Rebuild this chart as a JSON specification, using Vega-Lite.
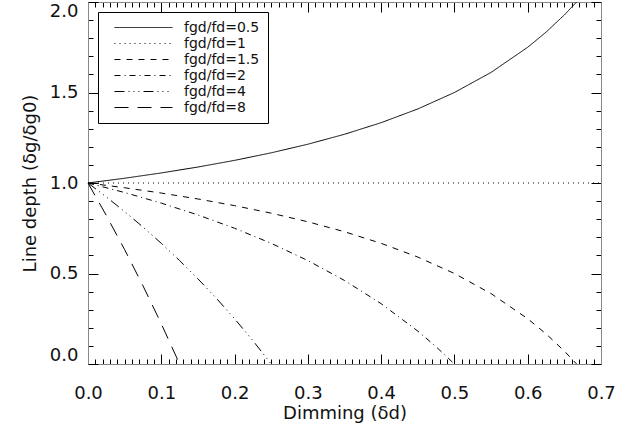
{
  "$schema": "https://vega.github.io/schema/vega-lite/v6.json",
  "autosize": "none",
  "width": 513,
  "height": 362,
  "padding": {"left": 88, "top": 2, "right": 43, "bottom": 70},
  "background": "white",
  "config": {
    "view": {"stroke": "black", "strokeWidth": 1}
  },
  "data": {
    "values": [
      {"r": "0.5", "x": 0, "y": 1},
      {"r": "0.5", "x": 0.05, "y": 1.0263},
      {"r": "0.5", "x": 0.1, "y": 1.0556},
      {"r": "0.5", "x": 0.15, "y": 1.0882},
      {"r": "0.5", "x": 0.2, "y": 1.125},
      {"r": "0.5", "x": 0.25, "y": 1.1667},
      {"r": "0.5", "x": 0.3, "y": 1.2143},
      {"r": "0.5", "x": 0.35, "y": 1.2692},
      {"r": "0.5", "x": 0.4, "y": 1.3333},
      {"r": "0.5", "x": 0.45, "y": 1.4091},
      {"r": "0.5", "x": 0.5, "y": 1.5},
      {"r": "0.5", "x": 0.55, "y": 1.6111},
      {"r": "0.5", "x": 0.6, "y": 1.75},
      {"r": "0.5", "x": 0.625, "y": 1.8333},
      {"r": "0.5", "x": 0.65, "y": 1.9286},
      {"r": "0.5", "x": 0.6667, "y": 2.0},
      {"r": "1", "x": 0, "y": 1},
      {"r": "1", "x": 0.7, "y": 1},
      {"r": "1.5", "x": 0, "y": 1},
      {"r": "1.5", "x": 0.05, "y": 0.9737},
      {"r": "1.5", "x": 0.1, "y": 0.9444},
      {"r": "1.5", "x": 0.15, "y": 0.9118},
      {"r": "1.5", "x": 0.2, "y": 0.875},
      {"r": "1.5", "x": 0.25, "y": 0.8333},
      {"r": "1.5", "x": 0.3, "y": 0.7857},
      {"r": "1.5", "x": 0.35, "y": 0.7308},
      {"r": "1.5", "x": 0.4, "y": 0.6667},
      {"r": "1.5", "x": 0.45, "y": 0.5909},
      {"r": "1.5", "x": 0.5, "y": 0.5},
      {"r": "1.5", "x": 0.55, "y": 0.3889},
      {"r": "1.5", "x": 0.6, "y": 0.25},
      {"r": "1.5", "x": 0.625, "y": 0.1667},
      {"r": "1.5", "x": 0.65, "y": 0.0714},
      {"r": "1.5", "x": 0.6667, "y": 0},
      {"r": "2", "x": 0, "y": 1},
      {"r": "2", "x": 0.05, "y": 0.9474},
      {"r": "2", "x": 0.1, "y": 0.8889},
      {"r": "2", "x": 0.15, "y": 0.8235},
      {"r": "2", "x": 0.2, "y": 0.75},
      {"r": "2", "x": 0.25, "y": 0.6667},
      {"r": "2", "x": 0.3, "y": 0.5714},
      {"r": "2", "x": 0.35, "y": 0.4615},
      {"r": "2", "x": 0.4, "y": 0.3333},
      {"r": "2", "x": 0.45, "y": 0.1818},
      {"r": "2", "x": 0.475, "y": 0.0952},
      {"r": "2", "x": 0.5, "y": 0},
      {"r": "4", "x": 0, "y": 1},
      {"r": "4", "x": 0.025, "y": 0.9231},
      {"r": "4", "x": 0.05, "y": 0.8421},
      {"r": "4", "x": 0.075, "y": 0.7568},
      {"r": "4", "x": 0.1, "y": 0.6667},
      {"r": "4", "x": 0.125, "y": 0.5714},
      {"r": "4", "x": 0.15, "y": 0.4706},
      {"r": "4", "x": 0.175, "y": 0.3636},
      {"r": "4", "x": 0.2, "y": 0.25},
      {"r": "4", "x": 0.225, "y": 0.129},
      {"r": "4", "x": 0.25, "y": 0},
      {"r": "8", "x": 0, "y": 1},
      {"r": "8", "x": 0.025, "y": 0.8205},
      {"r": "8", "x": 0.05, "y": 0.6316},
      {"r": "8", "x": 0.075, "y": 0.4324},
      {"r": "8", "x": 0.1, "y": 0.2222},
      {"r": "8", "x": 0.125, "y": 0}
    ]
  },
  "resolve": {"axis": {"x": "independent", "y": "independent"}},
  "layer": [
    {
      "mark": {"type": "line", "color": "black", "strokeWidth": 1},
      "encoding": {
        "x": {"field": "x", "type": "quantitative", "scale": {"domain": [0, 0.7], "nice": false, "zero": false},
          "axis": {"orient": "bottom", "ticks": false, "domain": false, "grid": false, "values": [0, 0.1, 0.2, 0.3, 0.4, 0.5, 0.6, 0.7], "format": ".1f", "labelFont": "DejaVu Sans", "labelColor": "#111", "labelFontSize": 18, "labelPadding": 20, "labelFlush": false, "labelOverlap": false, "title": "Dimming (δd)", "titleFont": "DejaVu Sans", "titleColor": "#111", "titleFontSize": 18, "titleFontWeight": "normal", "titlePadding": 2}},
        "y": {"field": "y", "type": "quantitative", "scale": {"domain": [0, 2], "nice": false, "zero": false},
          "axis": {"orient": "left", "ticks": false, "domain": false, "grid": false, "values": [0, 0.5, 1, 1.5, 2], "format": ".1f", "labelFont": "DejaVu Sans", "labelColor": "#111", "labelFontSize": 18, "labelPadding": 10, "labelFlush": true, "labelOverlap": false, "title": "Line depth (δg/δg0)", "titleFont": "DejaVu Sans", "titleColor": "#111", "titleFontSize": 18, "titleFontWeight": "normal", "titlePadding": 10}},
        "strokeDash": {"field": "r", "type": "nominal",
          "scale": {"domain": ["0.5", "1", "1.5", "2", "4", "8"], "range": [[1, 0], [1, 4], [6, 6], [6, 4, 1, 4], [10, 4, 1, 4, 1, 4, 1, 4], [14, 9]]},
          "legend": {"orient": "top-left", "offset": 10, "title": null, "symbolType": "stroke", "symbolSize": 3364, "clipHeight": 15, "rowPadding": 1, "symbolStrokeWidth": 1, "symbolStrokeColor": "black", "symbolOffset": 8, "labelOffset": 11, "labelFontSize": 14, "labelFont": "DejaVu Sans", "labelColor": "#111", "padding": 8, "strokeColor": "black", "fillColor": "white", "labelExpr": "'fgd/fd=' + datum.label"}}
      }
    },
    {
      "mark": {"type": "point", "opacity": 0},
      "encoding": {
        "x": {"field": "x", "type": "quantitative", "axis": {"orient": "top", "labels": false, "title": null, "grid": false, "tickColor": "black",
          "values": [0,0.01,0.02,0.03,0.04,0.05,0.06,0.07,0.08,0.09,0.1,0.11,0.12,0.13,0.14,0.15,0.16,0.17,0.18,0.19,0.2,0.21,0.22,0.23,0.24,0.25,0.26,0.27,0.28,0.29,0.3,0.31,0.32,0.33,0.34,0.35,0.36,0.37,0.38,0.39,0.4,0.41,0.42,0.43,0.44,0.45,0.46,0.47,0.48,0.49,0.5,0.51,0.52,0.53,0.54,0.55,0.56,0.57,0.58,0.59,0.6,0.61,0.62,0.63,0.64,0.65,0.66,0.67,0.68,0.69,0.7],
          "tickSize": {"condition": {"test": "abs(datum.value*10 - round(datum.value*10)) < 0.001", "value": -10}, "value": -5}}},
        "y": {"field": "y", "type": "quantitative", "axis": {"orient": "right", "labels": false, "title": null, "grid": false, "tickColor": "black",
          "values": [0,0.1,0.2,0.3,0.4,0.5,0.6,0.7,0.8,0.9,1,1.1,1.2,1.3,1.4,1.5,1.6,1.7,1.8,1.9,2],
          "tickSize": {"condition": {"test": "abs(datum.value*2 - round(datum.value*2)) < 0.001", "value": -10}, "value": -5}}}
      }
    },
    {
      "mark": {"type": "point", "opacity": 0},
      "encoding": {
        "x": {"field": "x", "type": "quantitative", "axis": {"orient": "bottom", "labels": false, "title": null, "grid": false, "tickColor": "black",
          "values": [0,0.01,0.02,0.03,0.04,0.05,0.06,0.07,0.08,0.09,0.1,0.11,0.12,0.13,0.14,0.15,0.16,0.17,0.18,0.19,0.2,0.21,0.22,0.23,0.24,0.25,0.26,0.27,0.28,0.29,0.3,0.31,0.32,0.33,0.34,0.35,0.36,0.37,0.38,0.39,0.4,0.41,0.42,0.43,0.44,0.45,0.46,0.47,0.48,0.49,0.5,0.51,0.52,0.53,0.54,0.55,0.56,0.57,0.58,0.59,0.6,0.61,0.62,0.63,0.64,0.65,0.66,0.67,0.68,0.69,0.7],
          "tickSize": {"condition": {"test": "abs(datum.value*10 - round(datum.value*10)) < 0.001", "value": -10}, "value": -5}}},
        "y": {"field": "y", "type": "quantitative", "axis": {"orient": "left", "labels": false, "title": null, "grid": false, "tickColor": "black",
          "values": [0,0.1,0.2,0.3,0.4,0.5,0.6,0.7,0.8,0.9,1,1.1,1.2,1.3,1.4,1.5,1.6,1.7,1.8,1.9,2],
          "tickSize": {"condition": {"test": "abs(datum.value*2 - round(datum.value*2)) < 0.001", "value": -10}, "value": -5}}}
      }
    }
  ]
}
